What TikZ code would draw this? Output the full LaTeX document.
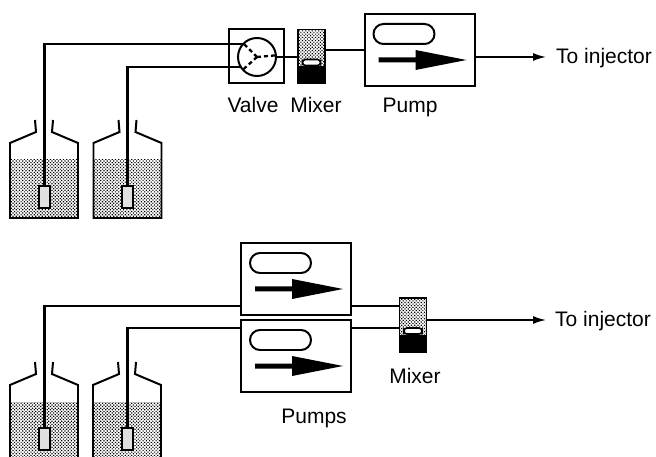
\documentclass[tikz,border=0pt]{standalone}
\usepackage{fontspec}
\setmainfont{Liberation Sans}
\usetikzlibrary{calc,arrows.meta,patterns.meta}
\definecolor{filtergray}{gray}{0.88}
\tikzset{
  stipple/.style={pattern={Dots[distance=2.3bp,radius=0.85bp,angle=45]},pattern color=black},
  line/.style={line width=2pt},
  tube/.style={line width=2.1pt},
  label/.style={inner sep=0pt,anchor=base,font=\fontsize{21bp}{24bp}\selectfont},
  filterbox/.style={draw,line width=2.1pt,fill=filtergray,minimum width=11bp,minimum height=22bp,inner sep=0pt,outer sep=0pt},
  valvebox/.style={draw,line width=1.8pt,minimum width=55bp,minimum height=54bp,inner sep=0pt,outer sep=0pt},
  valvedisc/.style={circle,draw,line width=2pt,minimum size=38bp,inner sep=0pt,outer sep=0pt},
  mixerbox/.style={draw,line width=1.8pt,minimum width=27bp,minimum height=54bp,inner sep=0pt,outer sep=0pt},
  pumpbox/.style={draw,line width=2pt,minimum width=110bp,minimum height=72bp,inner sep=0pt,outer sep=0pt},
  outarrow/.style={line width=1.6pt,-{Latex[length=13bp,width=8bp]}},
  valvedash/.style={line width=2.3pt,dash pattern=on 4bp off 3bp}
}
% bottle: #1 left x, #2 shoulder y, #3 liquid top y, #4 bottom y
\newcommand{\bottlepic}[4]{%
  \fill[stipple] (#1,#3) rectangle (#1+68,#4);
  \draw[line,line join=miter] (#1+25,#2-23) -- (#1+26,#2-11) -- (#1,#2) -- (#1,#4) -- (#1+68,#4) -- (#1+68,#2) -- (#1+42,#2-11) -- (#1+43,#2-23);
}
% pump contents relative to named pump node
\newcommand{\pumpinside}[1]{%
  \draw[line,rounded corners=10bp] ($(#1.north west)+(9,10)$) rectangle ($(#1.north west)+(70,30)$);
  \fill ($(#1.north west)+(14,43.5)$) -- ($(#1.north west)+(51,43.5)$) -- ($(#1.north west)+(51,36)$) -- ($(#1.north west)+(102,46)$) -- ($(#1.north west)+(51,56)$) -- ($(#1.north west)+(51,48.5)$) -- ($(#1.north west)+(14,48.5)$) -- cycle;
}
\newcommand{\mixerinside}[1]{%
  \fill[stipple] (#1.north west) rectangle (#1.south east);
  \fill ($(#1.south west)$) rectangle ($(#1.south east)+(0,-17)$);
  \draw[line width=1.8pt] (#1.north west) rectangle (#1.south east);
  \draw[line width=1.6pt,fill=white,rounded corners=3bp] ($(#1.south)+(-9,-18)$) rectangle ($(#1.south)+(9,-24)$);
}
\begin{document}
\begin{tikzpicture}[x=1bp,y=-1bp]
\useasboundingbox (0,0) rectangle (656,457);
% ---------- top system
\bottlepic{10}{143}{160}{218}
\bottlepic{93.5}{143}{160}{218}
\node[filterbox] (f1) at (44.5,197) {};
\node[filterbox] (f2) at (127.5,197) {};
\node[valvebox] (vb) at (256.5,56) {};
\node[valvedisc] (vd) at (257,57) {};
\node[mixerbox] (m1) at (311.5,56.5) {};
\mixerinside{m1}
\node[pumpbox] (p1) at (419.5,50) {};
\pumpinside{p1}
\coordinate (out1) at (546,57);
\draw[tube] (f1.north) |- (vd.137);
\draw[tube] (f2.north) |- (vd.212);
\draw[valvedash] (vd.center) -- (vd.135);
\draw[valvedash] (vd.center) -- (vd.222);
\draw[valvedash] (vd.center) -- (vd.5);
\draw[line] (vd.east) -- (vd.east -| m1.west);
\draw[line] (m1.east |- p1.west) -- (p1.west);
\draw[outarrow] (p1.east) ++(0,7) -- (out1);
\node[label,anchor=base west] (t1) at (556,64) {To injector};
\node[label] (lv) at (253,113) {Valve};
\node[label] (lm) at (316,113) {Mixer};
\node[label] (lp) at (410,113) {Pump};
% ---------- bottom system
\bottlepic{10}{385}{402}{462}
\bottlepic{93}{385}{402}{462}
\node[filterbox] (f3) at (44.5,439) {};
\node[filterbox] (f4) at (127.5,439) {};
\node[pumpbox] (p2) at (296,279) {};
\pumpinside{p2}
\node[pumpbox] (p3) at (296,356) {};
\pumpinside{p3}
\node[mixerbox] (m2) at (413,325) {};
\mixerinside{m2}
\coordinate (out2) at (546,320);
\coordinate (a2) at (0,306);
\coordinate (b2) at (0,328);
\draw[tube] (f3.north) |- (a2 -| p2.west);
\draw[tube] (f4.north) |- (b2 -| p3.west);
\draw[line] (a2 -| p2.east) -- (a2 -| m2.west);
\draw[line] (b2 -| p3.east) -- (b2 -| m2.west);
\draw[outarrow] (out2 -| m2.east) -- (out2);
\node[label,anchor=base west] (t2) at (555,327) {To injector};
\node[label] (lm2) at (415,383) {Mixer};
\node[label] (lp2) at (314,423) {Pumps};
\end{tikzpicture}
\end{document}
